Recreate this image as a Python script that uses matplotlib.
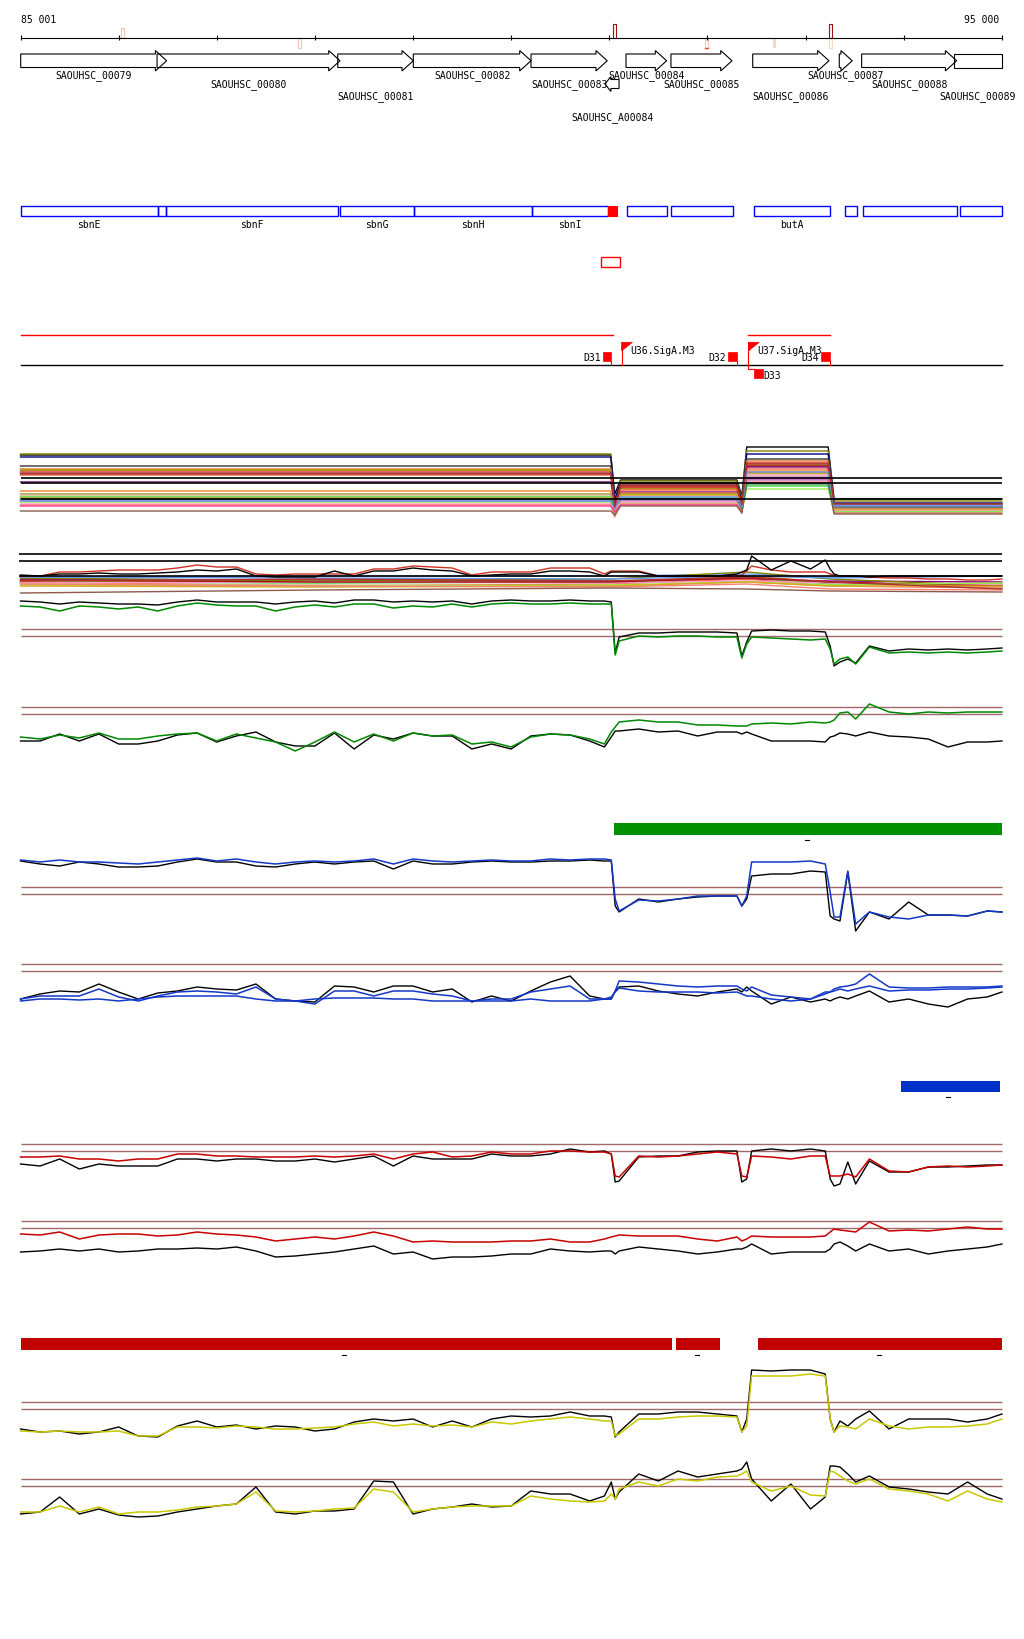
import matplotlib
matplotlib.use('Agg')
import matplotlib.pyplot as plt
from matplotlib.patches import Polygon, Rectangle

W, H = 1024, 1640
XLIM = (84792, 95225)
START, END = 85001, 95000
BROWN = '#a06868'
FONT = dict(family='DejaVu Sans Mono', fontsize=7)

# ---- gene models (top strand arrows)
gene_names = ['SAOUHSC_00079', 'SAOUHSC_00080', 'SAOUHSC_00081', 'SAOUHSC_00082', 'SAOUHSC_00083',
              'SAOUHSC_A00084', 'SAOUHSC_00084', 'SAOUHSC_00085', 'SAOUHSC_00086', 'SAOUHSC_00087',
              'SAOUHSC_00088', 'SAOUHSC_00089']
gene_start = [85003, 86392, 88233, 89003, 90202, 90956, 91170, 91628, 92461, 93343, 93571, 94512]
gene_end = [86490, 88256, 89003, 90202, 90979, 91099, 91584, 92250, 93238, 93475, 94539, 95000]
gene_strand = ['+', '+', '+', '+', '+', '-', '+', '+', '+', '+', '+', '']
gene_row = [0, 1, 2, 0, 1, 3, 0, 1, 2, 0, 1, 2]

# ---- small marks on the scale bar: position, top, bottom, colour, filled
mark_pos = [86038, 87845, 91053, 93258, 91992, 92678, 93258]
mark_y0 = [29, 38.5, 25, 25, 38.5, 38.5, 38.5]
mark_y1 = [38.5, 48.5, 38.5, 38.5, 49, 48, 49]
mark_col = ['#f4c4b4', '#f4c4b4', '#a01010', '#a01010', '#f4c4b4', '#f4d8c8', '#f4d8c8']
mark_fill = [False, False, False, False, False, True, False]

# ---- operon / TF boxes
box_start = [85001, 86401, 86480, 88253, 89006, 90212, 91184, 91632, 92471, 93403, 93583, 94569]
box_end = [86401, 86480, 88240, 89006, 90212, 90984, 91592, 92258, 93250, 93523, 94542, 95000]
box_label = ['sbnE', '', 'sbnF', 'sbnG', 'sbnH', 'sbnI', '', '', 'butA', '', '', '']

# ---- terminators / promoters
term_names = ['D31', 'D32', 'D34']
term_start = [90931, 92208, 93152]
term_end = [91017, 92304, 93250]
prom_names = ['U36.SigA.M3', 'U37.SigA.M3']
prom_pos = [91125, 92418]

# ---- bars with tick marks
green_bar = [(91045, 95000)]
green_ticks = [93018]
blue_bar = [(93970, 94980)]
blue_ticks = [94450]
red_bars = [(85001, 91634), (91677, 92123), (92510, 95000)]
red_ticks = [88297, 91893, 93748]

# ---- shared positions of signal tracks (bp)
pos = [85001, 85200, 85400, 85600, 85800, 86000, 86200, 86400, 86600, 86800, 87000, 87200, 87400,
       87600, 87800, 88000, 88200, 88400, 88600, 88800, 89000, 89200, 89400, 89600, 89800, 90000,
       90200, 90400, 90600, 90800, 90950, 91020, 91060, 91100, 91300, 91500, 91700, 91900, 92100,
       92300, 92350, 92400, 92450, 92650, 92850, 93050, 93200, 93250, 93290, 93350, 93430, 93510,
       93650, 93850, 94050, 94250, 94450, 94650, 94850, 95000]

# track 1: many samples, levels per segment (left, dip, middle, dip, high, right)
seg_pos = [85001, 91015, 91055, 91115, 92300, 92350, 92400, 93230, 93290, 95000]
t1_levels = [
    ('black', 6.4, 2.5, 3.9, 2.3, 7.2, 2.0), ('#808000', 6.5, 1.7, 3.8, 2.0, 6.8, 1.8),
    ('#000080', 6.2, 2.0, 3.6, 1.7, 6.5, 1.6), ('#333333', 5.3, 1.5, 3.5, 1.5, 6.0, 1.5),
    ('#e07020', 5.0, 1.0, 3.2, 1.3, 5.8, 1.4), ('#d02020', 4.8, 1.2, 3.1, 1.4, 5.6, 1.3),
    ('#a0a000', 4.9, 0.8, 3.0, 1.1, 5.4, 1.2), ('#a01010', 4.6, 1.3, 3.3, 1.5, 5.3, 1.1),
    ('#ff6040', 4.4, 0.8, 2.9, 1.0, 5.0, 1.3), ('#800080', 3.7, 1.5, 2.7, 1.2, 5.2, 1.0),
    ('#f08030', 2.8, 0.5, 2.6, 1.0, 4.8, 0.9), ('#909020', 2.5, 1.0, 2.5, 0.8, 4.6, 1.0),
    ('#d2b48c', 2.4, 1.1, 2.3, 1.0, 4.4, 1.1), ('#33cc33', 2.2, 1.2, 2.1, 0.8, 3.3, 0.7),
    ('#66aaff', 2.0, 1.4, 1.9, 1.4, 4.2, 1.4), ('#9370db', 1.9, 1.1, 2.0, 1.1, 4.0, 1.0),
    ('#cc66cc', 1.8, 0.7, 1.8, 0.9, 3.9, 1.2), ('#99ee44', 1.7, 0.6, 1.6, 0.7, 3.0, 0.8),
    ('#ff99cc', 1.5, 0.9, 1.7, 0.8, 4.3, 0.9), ('#fa8072', 1.4, 0.2, 1.5, 0.6, 3.7, 0.6),
    ('#ff3399', 1.3, 0.7, 1.4, 0.7, 4.1, 1.1), ('#daa520', 2.1, 0.9, 2.4, 0.9, 4.6, 1.0),
    ('#8b5a4a', 0.8, 0.4, 1.3, 0.6, 3.6, 0.5), ('#2e8b57', 2.0, 1.1, 2.0, 1.0, 3.5, 1.2),
    ('#6495ed', 1.8, 1.0, 2.2, 1.2, 4.7, 1.3), ('#b03030', 4.5, 1.2, 3.4, 1.4, 5.5, 1.5),
]
t1_black_lines = [4.13, 3.57, 2.03]

# track 2
t2_red = [2.8, 2.8, 3.2, 3.2, 3.3, 3.4, 3.4, 3.4, 3.6, 3.9, 3.7, 3.7, 3.0, 2.9, 3.0, 3.0, 3.0, 3.0,
          3.5, 3.5, 3.8, 3.7, 3.6, 2.9, 3.2, 3.2, 3.2, 3.6, 3.6, 3.6, 3.0, 3.3, 3.3, 3.3, 3.3, 2.8,
          2.8, 2.8, 2.8, 2.8, 2.9, 3.3, 3.8, 3.4, 3.2, 3.2, 3.2, 3.0, 2.9, 2.8, 2.8, 2.8, 2.7, 2.6,
          2.6, 2.5, 2.5, 2.4, 2.4, 2.5]
t2_black = [2.9, 2.8, 3.0, 3.0, 3.1, 3.0, 3.0, 3.1, 3.2, 3.4, 3.3, 3.5, 2.8, 2.7, 2.7, 2.7, 3.3, 2.8,
            3.3, 3.3, 3.6, 3.4, 3.3, 2.8, 2.9, 3.0, 3.0, 3.3, 3.3, 3.2, 2.8, 3.2, 3.2, 3.2, 3.2, 2.8,
            2.8, 2.8, 2.8, 3.0, 3.2, 3.4, 4.8, 3.4, 4.3, 3.5, 4.4, 3.5, 3.0, 2.8, 2.8, 2.8, 2.7, 2.8,
            2.8, 2.8, 2.8, 2.8, 2.8, 2.8]
bulk_pos = [85001, 88000, 91000, 92400, 93250, 95000]
t2_bulk = [
    ('#66aaff', 2.7, 2.8, 2.8, 3.0, 2.7, 2.8), ('#800080', 2.5, 2.4, 2.3, 2.5, 2.3, 2.2),
    ('#808000', 2.6, 2.3, 2.5, 3.2, 2.5, 1.8), ('#e07020', 2.3, 2.2, 2.2, 2.8, 2.2, 1.7),
    ('#33cc33', 2.2, 2.1, 2.2, 2.7, 2.0, 2.0), ('#ff6040', 2.2, 1.8, 2.0, 2.5, 1.8, 1.6),
    ('#ff99cc', 2.1, 2.2, 2.1, 2.3, 2.1, 1.9), ('#a01010', 2.4, 2.2, 2.2, 2.6, 2.2, 1.8),
    ('#d2b48c', 2.0, 1.9, 1.8, 2.2, 1.8, 1.7), ('#99ee44', 1.9, 1.8, 1.9, 2.2, 1.9, 2.1),
    ('#daa520', 1.8, 1.7, 1.8, 2.2, 1.8, 1.8), ('#fa8072', 2.0, 1.8, 1.7, 2.0, 1.5, 1.4),
    ('#8b5a4a', 1.1, 1.4, 1.6, 1.5, 1.3, 1.2), ('#6495ed', 2.7, 2.6, 2.5, 2.8, 2.6, 2.8),
    ('#b03030', 2.3, 2.5, 2.3, 2.7, 2.2, 1.5),
]
t2_black_lines = [4.97, 4.27, 2.77]

# track 3 / 4 (green)
t3_black = [8.8, 8.7, 8.5, 8.7, 8.6, 8.5, 8.5, 8.4, 8.7, 8.9, 8.7, 8.7, 8.7, 8.5, 8.7, 8.8, 8.6, 8.9,
            8.9, 8.7, 8.8, 8.7, 8.8, 8.5, 8.8, 8.9, 8.8, 8.8, 8.9, 8.8, 8.8, 8.7, 3.6, 5.2, 5.6, 5.6,
            5.7, 5.7, 5.7, 5.6, 3.3, 4.7, 5.8, 5.9, 5.8, 5.8, 5.7, 4.3, 2.3, 2.7, 3.0, 2.6, 4.3, 3.8,
            4.0, 3.9, 4.0, 3.9, 4.0, 4.1]
t3_green = [8.3, 8.2, 7.8, 8.3, 8.2, 8.0, 8.2, 7.8, 8.3, 8.6, 8.4, 8.3, 8.3, 7.8, 8.2, 8.4, 8.2, 8.5,
            8.5, 8.1, 8.3, 8.2, 8.5, 8.2, 8.5, 8.6, 8.5, 8.5, 8.6, 8.5, 8.5, 8.5, 3.4, 4.8, 5.3, 5.2,
            5.3, 5.3, 5.2, 5.2, 3.1, 4.5, 5.2, 5.1, 5.0, 4.9, 5.0, 4.0, 2.5, 3.0, 3.2, 2.5, 4.2, 3.6,
            3.7, 3.6, 3.7, 3.6, 3.7, 3.8]
t4_black = [2.8, 2.8, 3.5, 2.8, 3.5, 2.5, 2.5, 2.8, 3.4, 3.6, 2.7, 3.3, 3.7, 2.7, 2.3, 2.3, 3.6, 2.0,
            3.4, 3.0, 3.6, 3.3, 3.3, 2.0, 2.5, 2.0, 3.3, 3.5, 3.4, 2.8, 2.2, 3.2, 3.8, 3.8, 4.0, 3.7,
            3.8, 3.3, 3.7, 3.7, 3.5, 3.7, 3.5, 2.8, 2.8, 2.8, 2.7, 3.2, 3.3, 3.6, 3.5, 3.3, 3.7, 3.3,
            3.2, 3.0, 2.2, 2.7, 2.7, 2.8]
t4_green = [3.2, 3.0, 3.4, 3.1, 3.6, 3.0, 3.0, 3.3, 3.5, 3.6, 2.8, 3.5, 3.1, 2.7, 1.8, 2.7, 3.7, 2.7,
            3.5, 2.8, 3.6, 3.3, 3.4, 2.5, 2.7, 2.2, 3.2, 3.5, 3.4, 3.0, 2.5, 3.7, 4.2, 4.7, 4.9, 4.7,
            4.7, 4.4, 4.4, 4.3, 4.3, 4.3, 4.5, 4.6, 4.5, 4.7, 4.6, 4.7, 4.9, 5.6, 5.7, 5.0, 6.5, 5.7,
            5.5, 5.7, 5.6, 5.7, 5.7, 5.7]

# track 5 / 6 (blue)
t5_black = [7.3, 7.0, 6.8, 7.2, 7.0, 6.7, 6.7, 6.8, 7.2, 7.5, 7.2, 7.2, 6.8, 6.7, 7.0, 7.2, 7.0, 7.2,
            7.3, 6.5, 7.3, 7.0, 7.0, 7.2, 7.3, 7.2, 7.2, 7.3, 7.3, 7.4, 7.3, 7.3, 2.8, 2.2, 3.5, 3.2,
            3.5, 3.7, 3.8, 3.8, 2.8, 3.5, 5.8, 6.0, 6.0, 6.3, 6.2, 1.8, 1.5, 1.3, 6.2, 0.3, 2.2, 1.5,
            3.2, 1.9, 1.9, 1.8, 2.3, 2.2]
t5_blue = [7.4, 7.2, 7.4, 7.2, 7.2, 7.1, 7.0, 7.2, 7.4, 7.6, 7.3, 7.5, 7.2, 7.0, 7.2, 7.3, 7.2, 7.3,
           7.5, 7.0, 7.5, 7.3, 7.2, 7.3, 7.4, 7.3, 7.3, 7.5, 7.4, 7.5, 7.5, 7.4, 3.5, 2.3, 3.4, 3.3,
           3.5, 3.8, 3.8, 3.8, 2.8, 3.8, 7.2, 7.2, 7.2, 7.3, 7.0, 4.2, 1.7, 1.7, 6.3, 1.0, 2.2, 1.7,
           1.5, 1.9, 1.9, 1.8, 2.3, 2.2]
t6_black = [1.5, 2.0, 2.3, 2.2, 3.0, 2.2, 1.5, 2.1, 2.3, 2.7, 2.5, 2.4, 3.0, 1.5, 1.3, 1.2, 2.8, 2.7,
            2.2, 2.8, 2.8, 2.2, 2.5, 1.2, 1.8, 1.3, 2.3, 3.2, 3.8, 1.8, 1.5, 1.5, 2.3, 2.7, 2.8, 2.3,
            2.0, 1.8, 2.2, 2.5, 2.2, 2.7, 2.3, 1.0, 1.7, 1.2, 1.5, 1.3, 1.5, 1.7, 1.5, 1.8, 2.3, 1.2,
            1.5, 1.0, 0.7, 1.5, 1.7, 2.2]
t6_blue1 = [1.5, 1.8, 1.8, 1.8, 2.5, 1.7, 1.3, 1.8, 2.2, 2.3, 2.2, 2.0, 2.7, 1.5, 1.3, 1.0, 2.3, 2.3,
            1.8, 2.3, 2.3, 2.0, 1.8, 1.3, 1.5, 1.5, 2.2, 2.5, 2.8, 1.5, 1.5, 1.5, 2.3, 3.3, 3.2, 3.0,
            2.8, 2.7, 2.8, 2.8, 2.5, 2.3, 2.7, 1.9, 1.7, 1.5, 2.2, 2.2, 2.5, 2.7, 2.8, 3.0, 4.0, 2.7,
            2.6, 2.6, 2.7, 2.7, 2.7, 2.8]
t6_blue2 = [1.3, 1.5, 1.5, 1.4, 1.5, 1.3, 1.5, 1.7, 1.8, 1.8, 1.8, 1.8, 1.5, 1.3, 1.3, 1.5, 1.6, 1.6,
            1.6, 1.5, 1.5, 1.3, 1.3, 1.3, 1.3, 1.3, 1.5, 1.3, 1.3, 1.3, 1.5, 1.7, 2.2, 2.6, 2.3, 2.2,
            2.2, 2.2, 2.1, 2.2, 2.0, 1.8, 1.8, 1.5, 1.3, 1.5, 2.0, 2.2, 2.3, 2.5, 2.3, 2.5, 2.8, 2.3,
            2.4, 2.4, 2.5, 2.5, 2.6, 2.7]

# track 7 / 8 (red)
t7_black = [3.0, 2.8, 3.5, 2.5, 3.0, 2.8, 2.8, 2.8, 3.5, 3.5, 3.3, 3.5, 3.5, 3.3, 3.3, 3.5, 3.2, 3.5,
            3.8, 2.8, 3.8, 3.5, 3.5, 3.5, 4.0, 3.8, 3.8, 4.0, 4.5, 4.2, 4.3, 4.0, 1.2, 1.3, 3.7, 3.8,
            3.8, 4.2, 4.3, 4.3, 1.2, 1.5, 4.3, 4.5, 4.3, 4.5, 4.3, 1.5, 0.8, 1.0, 3.2, 1.0, 3.3, 2.2,
            2.2, 2.7, 2.7, 2.8, 2.9, 2.9]
t7_red = [3.7, 3.7, 3.8, 3.5, 3.5, 3.3, 3.5, 3.5, 4.0, 4.0, 3.8, 3.8, 3.7, 3.7, 3.7, 3.8, 3.7, 3.8,
          4.0, 3.5, 4.0, 4.2, 3.7, 3.8, 4.2, 4.0, 4.0, 4.3, 4.3, 4.2, 4.2, 4.0, 1.8, 1.7, 3.8, 3.7,
          3.8, 4.0, 4.2, 4.0, 1.8, 1.7, 3.8, 3.7, 3.5, 3.8, 3.8, 1.8, 1.8, 1.8, 2.0, 1.7, 3.5, 2.3,
          2.2, 2.7, 2.8, 2.7, 2.8, 2.9]
t8_black = [1.9, 2.0, 2.2, 2.0, 2.2, 1.9, 2.0, 2.2, 2.2, 2.3, 2.2, 2.4, 2.0, 1.4, 1.5, 1.7, 1.9, 2.2,
            2.5, 1.7, 1.9, 1.2, 1.4, 1.4, 1.5, 1.7, 1.7, 2.2, 2.0, 1.9, 2.0, 2.0, 1.7, 2.0, 2.4, 2.2,
            2.0, 1.7, 1.9, 2.2, 2.2, 2.4, 2.7, 1.7, 1.9, 1.9, 1.9, 2.2, 2.7, 2.9, 2.5, 2.0, 2.7, 2.0,
            2.2, 1.7, 2.0, 2.2, 2.4, 2.7]
t8_red = [3.7, 3.6, 3.9, 3.2, 3.6, 3.7, 3.7, 3.5, 3.6, 3.9, 3.7, 3.6, 3.4, 3.0, 3.2, 3.4, 3.2, 3.5,
          3.9, 3.5, 2.9, 3.0, 2.9, 2.9, 2.9, 3.0, 3.0, 3.2, 2.9, 2.9, 3.2, 3.4, 3.5, 3.6, 3.5, 3.5,
          3.5, 3.2, 3.0, 3.4, 3.0, 3.2, 3.5, 3.4, 3.4, 3.4, 3.5, 3.9, 4.2, 4.1, 4.0, 3.9, 4.9, 4.0,
          4.1, 4.0, 4.2, 4.4, 4.2, 4.2]

# track 9 / 10 (yellow)
t9_black = [1.5, 1.2, 1.3, 1.0, 1.2, 1.7, 0.8, 0.7, 1.8, 2.3, 1.7, 1.9, 1.5, 1.8, 1.7, 1.3, 1.5, 2.2,
            2.5, 2.3, 2.5, 1.7, 2.3, 1.7, 2.5, 2.8, 2.7, 2.8, 3.2, 2.8, 2.8, 2.7, 0.7, 1.2, 3.0, 3.0,
            3.2, 3.2, 3.0, 2.8, 1.2, 2.5, 7.4, 7.3, 7.4, 7.4, 7.0, 2.5, 1.2, 2.3, 1.8, 2.5, 3.3, 1.5,
            2.5, 2.5, 2.5, 2.2, 2.5, 3.0]
t9_yellow = [1.3, 1.2, 1.3, 1.2, 1.2, 1.3, 0.8, 0.8, 1.7, 1.7, 1.6, 1.8, 1.7, 1.5, 1.5, 1.6, 1.7, 2.0,
             2.2, 1.8, 2.0, 1.8, 1.9, 1.7, 2.2, 2.0, 2.3, 2.5, 2.7, 2.5, 2.3, 2.3, 0.8, 1.0, 2.5, 2.5,
             2.7, 2.8, 2.8, 2.7, 1.2, 1.8, 6.8, 6.8, 6.8, 7.0, 6.8, 2.5, 1.2, 1.8, 1.7, 1.5, 2.5, 1.8,
             1.5, 1.7, 1.7, 1.8, 2.0, 2.5]
t10_black = [1.0, 1.2, 2.7, 1.0, 1.5, 0.9, 0.7, 0.8, 1.2, 1.5, 1.8, 2.0, 3.7, 1.2, 1.0, 1.3, 1.3, 1.5,
             4.3, 4.2, 1.0, 1.5, 1.7, 2.0, 1.7, 1.8, 3.3, 3.0, 3.0, 2.3, 2.8, 4.2, 2.5, 3.2, 5.0, 4.3,
             5.3, 4.7, 5.0, 5.3, 5.5, 6.2, 4.5, 2.3, 4.0, 1.5, 2.7, 5.8, 5.8, 5.7, 5.0, 4.2, 4.8, 3.7,
             3.5, 3.2, 3.0, 4.2, 3.0, 2.5]
t10_yellow = [1.2, 1.2, 1.8, 1.2, 1.7, 1.0, 1.2, 1.2, 1.4, 1.7, 1.8, 2.0, 3.2, 1.3, 1.2, 1.3, 1.5, 1.6,
              3.5, 3.2, 1.2, 1.5, 1.7, 1.8, 1.8, 1.8, 2.8, 2.5, 2.3, 2.2, 2.3, 3.0, 2.5, 3.5, 4.2, 3.8,
              4.5, 4.3, 4.7, 4.8, 5.0, 5.3, 4.2, 3.3, 3.8, 2.9, 2.8, 5.3, 5.2, 4.8, 4.3, 4.0, 4.5, 3.5,
              3.3, 3.0, 2.3, 3.3, 2.5, 2.2]

fig = plt.figure(figsize=(W / 100, H / 100), dpi=100)
fig.patch.set_facecolor('white')

# ---------- annotation axes: x in bp, y in pixel rows
ax = fig.add_axes([0, 0, 1, 1])
ax.set_xlim(XLIM)
ax.set_ylim(H, 0)
ax.axis('off')

# scale bar
ax.plot([START, END], [38.5, 38.5], color='black', lw=0.8)
ticks = [START] + list(range(86000, 95001, 1000))
ax.vlines(ticks, 36, 41, color='black', lw=0.8)
ax.text(START, 20, '85 001', ha='left', va='center', **FONT)
ax.text(END - 25, 20, '95 000', ha='right', va='center', **FONT)
for x0, y0, y1, c, fill in zip(mark_pos, mark_y0, mark_y1, mark_col, mark_fill):
    ax.add_patch(Rectangle((x0 - 15, y0), 30, y1 - y0, fill=fill, facecolor=c, edgecolor=c, lw=0.8))
ax.plot([91977, 92007], [48.5, 48.5], color='#e05030', lw=1.0)

# gene arrows
row_y = [76, 85, 97, 118]
for name, s, e, st, r in zip(gene_names, gene_start, gene_end, gene_strand, gene_row):
    if st == '-':
        yc, bh, hh, hl = 85, 4.5, 7.5, 60
        pts = [(e, yc - bh), (s + hl, yc - bh), (s + hl, yc - hh), (s, yc), (s + hl, yc + hh),
               (s + hl, yc + bh), (e, yc + bh)]
    elif st == '+':
        yc, bh, hh = 61.75, 6.75, 10.2
        hl = min(115, (e - s) * 0.9)
        pts = [(s, yc - bh), (e - hl, yc - bh), (e - hl, yc - hh), (e, yc), (e - hl, yc + hh),
               (e - hl, yc + bh), (s, yc + bh)]
    else:
        yc, bh = 61.75, 6.75
        pts = [(s, yc - bh), (e, yc - bh), (e, yc + bh), (s, yc + bh)]
    ax.add_patch(Polygon(pts, closed=True, fill=False, edgecolor='black', lw=0.8))
    ax.text((s + e) / 2, row_y[r], name, ha='center', va='center', **FONT)

# blue operon boxes
for s, e, lab in zip(box_start, box_end, box_label):
    ax.add_patch(Rectangle((s, 207.3), e - s, 10, fill=False, edgecolor='#0000ff', lw=1.0))
    if lab:
        ax.text((s + e) / 2, 224.5, lab, ha='center', va='center', **FONT)
ax.add_patch(Rectangle((90984, 207.3), 94, 10, facecolor='#ff0000', edgecolor='#ff0000', lw=0.8))
ax.add_patch(Rectangle((90916, 258), 190, 10, fill=False, edgecolor='#ff0000', lw=1.0))

# transcription units and terminators / promoters
ax.plot([START, 91037], [336, 336], color='#ff0000', lw=1.0)
ax.plot([92418, 93248], [336, 336], color='#ff0000', lw=1.0)
ax.plot([START, END], [366, 366], color='black', lw=1.0)
for name, s, e in zip(term_names, term_start, term_end):
    ax.add_patch(Rectangle((s, 353), e - s, 8.7, facecolor='#ff0000', edgecolor='#ff0000', lw=0.5))
    ax.plot([e, e], [361.7, 366], color='#ff0000', lw=0.8)
    ax.text(s - 15, 358, name, ha='right', va='center', **FONT)
ax.add_patch(Rectangle((92471, 370), 94, 9, facecolor='#ff0000', edgecolor='#ff0000', lw=0.5))
ax.plot([92418, 92418, 92471], [366, 370, 370], color='#ff0000', lw=0.8)
ax.text(92566, 375.7, 'D33', ha='left', va='center', **FONT)
for name, p in zip(prom_names, prom_pos):
    ax.plot([p, p], [343.3, 366], color='#ff0000', lw=0.8)
    ax.add_patch(Polygon([(p, 343.3), (p + 110, 343.3), (p, 352)], closed=True,
                         facecolor='#ff0000', edgecolor='#ff0000', lw=0.5))
    ax.text(p + 85, 350.7, name, ha='left', va='center', **FONT)

# colored bars with dash ticks
def bars(segs, tks, y0, y1, color):
    for s, e in segs:
        ax.add_patch(Rectangle((s, y0), e - s, y1 - y0, facecolor=color, edgecolor='none'))
    for t in tks:
        ax.plot([t - 20, t + 20], [y1 + 5.5, y1 + 5.5], color='black', lw=0.8)

bars(green_bar, green_ticks, 824, 835.7, '#009000')
bars(blue_bar, blue_ticks, 1082, 1092.7, '#0030c8')
bars(red_bars, red_ticks, 1339, 1350.7, '#c00000')

# ---------- signal tracks
def track(top, bottom):
    t = fig.add_axes([0, 1 - bottom / H, 1, (bottom - top) / H])
    t.set_xlim(XLIM)
    t.set_ylim(0, (bottom - top) / 10)
    t.axis('off')
    t.patch.set_alpha(0)
    return t

# track 1
a1 = track(440, 520)
for c, L, D1, M, D2, Hh, R in t1_levels:
    a1.plot(seg_pos, [L, L, D1, M, M, D2, Hh, Hh, R, R], color=c, lw=1.0, clip_on=False)
a1.hlines(t1_black_lines, START, END, color='black', lw=1.2)

# track 2
a2 = track(545, 605)
for c, *vals in t2_bulk:
    a2.plot(bulk_pos, vals, color=c, lw=1.0, clip_on=False)
a2.plot(pos, t2_red, color='#d03020', lw=1.0, clip_on=False)
a2.plot(pos, t2_black, color='black', lw=1.0, clip_on=False)
a2.hlines(t2_black_lines, START - 20, END, color='black', lw=1.2)

# paired tracks: (top, bottom, thresholds, black, colored list)
pairs = [
    (590, 690, [6.0, 5.3], t3_black, [(t3_green, '#008800')]),
    (690, 770, [6.2, 5.5], t4_black, [(t4_green, '#008800')]),
    (845, 935, [4.67, 3.97], t5_black, [(t5_blue, '#1438c8')]),
    (955, 1015, [5.0, 4.27], t6_black, [(t6_blue1, '#1438c8'), (t6_blue2, '#1438c8')]),
    (1135, 1195, [4.97, 4.27], t7_black, [(t7_red, '#c80000')]),
    (1212, 1272, [4.97, 4.27], t8_black, [(t8_red, '#c80000')]),
    (1360, 1445, [4.17, 3.47], t9_black, [(t9_yellow, '#c8c800')]),
    (1455, 1525, [4.47, 3.77], t10_black, [(t10_yellow, '#c8c800')]),
]
for top, bottom, thr, blk, cols in pairs:
    a = track(top, bottom)
    a.hlines(thr, START, END, color=BROWN, lw=1.0)
    a.plot(pos, blk, color='black', lw=1.0, clip_on=False)
    for vals, c in cols:
        a.plot(pos, vals, color=c, lw=1.1, clip_on=False)

fig.savefig('out.png', dpi=100, facecolor='white')
